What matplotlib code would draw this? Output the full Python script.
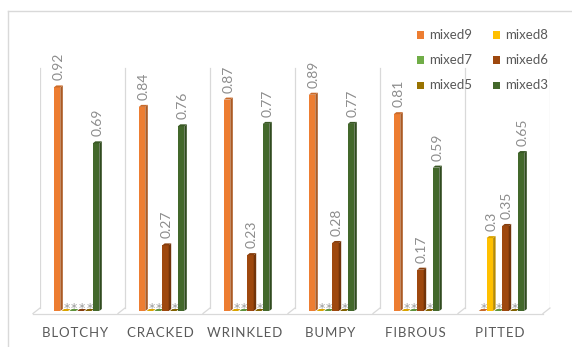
import matplotlib
matplotlib.use("Agg")
import matplotlib.pyplot as plt
from matplotlib.patches import Polygon, Rectangle
from matplotlib.lines import Line2D
import matplotlib.colors as mcolors
import numpy as np

plt.rcParams['font.family'] = ['Lato', 'DejaVu Sans']

categories = ["BLOTCHY", "CRACKED", "WRINKLED", "BUMPY", "FIBROUS", "PITTED"]
series = ["mixed9", "mixed8", "mixed7", "mixed6", "mixed5", "mixed3"]
values = {
    "mixed9": [0.92, 0.84, 0.87, 0.89, 0.81, 0.0],
    "mixed8": [0.0, 0.0, 0.0, 0.0, 0.0, 0.30],
    "mixed7": [0.0, 0.0, 0.0, 0.0, 0.0, 0.0],
    "mixed6": [0.0, 0.27, 0.23, 0.28, 0.17, 0.35],
    "mixed5": [0.0, 0.0, 0.0, 0.0, 0.0, 0.0],
    "mixed3": [0.69, 0.76, 0.77, 0.77, 0.59, 0.65],
}
colors = {
    "mixed9": "#ED7D31",
    "mixed8": "#FFC000",
    "mixed7": "#70AD47",
    "mixed6": "#9E480E",
    "mixed5": "#997300",
    "mixed3": "#43682B",
}

W, H = 572, 347
fig = plt.figure(figsize=(W / 100, H / 100), dpi=100)
fig.patch.set_facecolor("white")


def fpx(x, y):
    """Figure pixel (from top-left) to figure fraction."""
    return x / W, 1 - y / H


# plot box: x 40..550 px, baseline at y=311 px, top at y=11 px
px_per_unit = 243.0
ax = fig.add_axes([40 / W, (H - 311) / H, 510 / W, 300 / H])
ax.set_xlim(-0.5, 5.5)
ax.set_ylim(0, 300 / px_per_unit)
ax.axis("off")

ux = 1 / 85.0            # one pixel in x data units
uy = 1 / px_per_unit     # one pixel in y data units

grid_c = "#D9D9D9"
# category separators (back wall) and slanted floor
floor_back = 3 * uy
floor_front = -2.5 * uy
slant = 7 * ux
for s in np.arange(-0.5, 6.0, 1.0):
    ax.plot([s, s], [floor_back, 1.0], color=grid_c, lw=0.9, zorder=1)
    ax.plot([s, s - slant], [floor_back, floor_front], color=grid_c, lw=0.9,
            zorder=1, clip_on=False)
ax.plot([-0.5 - slant, 5.5 - slant], [floor_front, floor_front], color=grid_c,
        lw=0.9, zorder=1, clip_on=False)

# 3-D style bars
step = 7.8 * ux
width = 6.5 * ux
dx = 2.5 * ux
dy = 2.0 * uy
shift = -0.07


def shade(c, f):
    r, g, b = mcolors.to_rgb(c)
    return (r * f, g * f, b * f)


xs = np.arange(len(categories))
for j, name in enumerate(series):
    col = colors[name]
    pos = xs + shift + (j - 2.5) * step
    vals = values[name]
    ax.bar(pos, vals, width=width, color=col, zorder=3 + j, linewidth=0)
    for x, v in zip(pos, vals):
        xl, xr = x - width / 2, x + width / 2
        side = Polygon([(xr, 0), (xr + dx, dy), (xr + dx, v + dy), (xr, v)],
                       closed=True, facecolor=shade(col, 0.72), lw=0, zorder=3 + j)
        top = Polygon([(xl, v), (xl + dx, v + dy), (xr + dx, v + dy), (xr, v)],
                      closed=True, facecolor=shade(col, 0.85), lw=0, zorder=3 + j)
        ax.add_patch(side)
        ax.add_patch(top)
        if v > 0:
            ax.text(x + 1.5 * ux, v + dy + 5 * uy, f"{v:g}", rotation=90,
                    ha="center", va="bottom", fontsize=10, color="#8C8C8C",
                    zorder=20)
        else:
            ax.text(x + 1.5 * ux, v - 1 * uy, "*", rotation=0,
                    ha="center", va="baseline", fontsize=9, color="#9A9A9A",
                    family="DejaVu Sans", zorder=20)

# category labels with wide tracking
for i, cat in enumerate(categories):
    ax.text(i - 7.5 * ux, -22 * uy, "\u200a".join(cat), ha="center", va="center",
            fontsize=9.5, color="#595959", clip_on=False)

# legend in two columns
for k, name in enumerate(series):
    row, colno = k // 2, k % 2
    mx = 417 + 76 * colno
    my = 35 + 25 * row
    x0, y0 = fpx(mx, my + 3.5)
    fig.add_artist(Rectangle((x0, y0), 7 / W, 7 / H, transform=fig.transFigure,
                             facecolor=colors[name], lw=0))
    tx, ty = fpx(mx + 12, my)
    fig.text(tx, ty, name, ha="left", va="center", fontsize=9.5, color="#595959")

# chart frame (top and left edges)
fig.add_artist(Line2D([8 / W, 1], [1 - 11 / H, 1 - 11 / H], transform=fig.transFigure,
                      color=grid_c, lw=1))
fig.add_artist(Line2D([8 / W, 8 / W], [1 - 11 / H, 0], transform=fig.transFigure,
                      color=grid_c, lw=1))

fig.savefig("out.png", dpi=100)
